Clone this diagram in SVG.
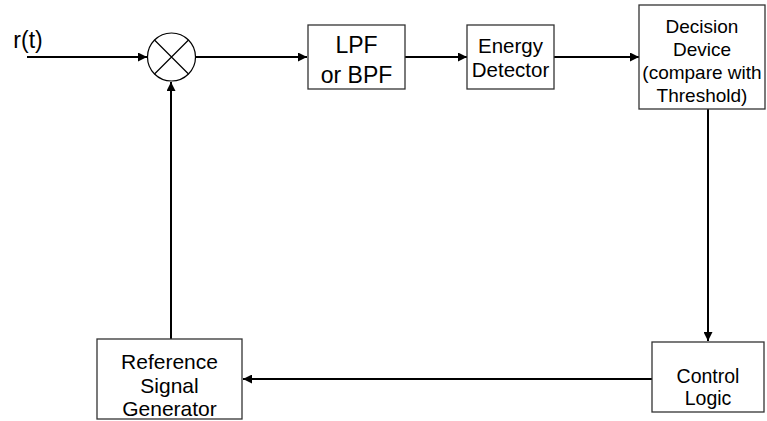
<svg xmlns="http://www.w3.org/2000/svg" width="767" height="421" viewBox="0 0 767 421">
<defs>
<marker id="ah" viewBox="0 0 10 10" refX="10" refY="5" markerWidth="10" markerHeight="9" markerUnits="userSpaceOnUse" orient="auto">
<path d="M0,0 L10,5 L0,10 z" fill="#000"/>
</marker>
<style>
.box{fill:#fff;stroke:#333;stroke-width:1.3}
.t{font-family:"Liberation Sans",Arial,sans-serif;fill:#000;text-anchor:middle}
.c{stroke:#000;stroke-width:2;fill:none;marker-end:url(#ah)}
</style>
</defs>
<rect width="767" height="421" fill="#fff"/>
<text class="t" x="28" y="48" font-size="23">r(t)</text>
<g id="connectors">
<path class="c" d="M27,57 H147"/>
<path class="c" d="M196,57 H307"/>
<path class="c" d="M405,57 H467"/>
<path class="c" d="M554,57 H639"/>
<path class="c" d="M708,109 V341"/>
<path class="c" d="M652,379 H243"/>
<path class="c" d="M171,339 V82"/>
</g>
<g id="mixer">
<circle cx="171.5" cy="57" r="24" fill="#fff" stroke="#000" stroke-width="1.2"/>
<path d="M154.5,40 L188.5,74 M188.5,40 L154.5,74" stroke="#000" stroke-width="1.2"/>
</g>
<g id="lpf">
<rect class="box" x="308" y="25" width="97" height="64"/>
<text class="t" x="356.5" y="53" font-size="23">LPF</text>
<text class="t" x="356.5" y="83" font-size="23">or BPF</text>
</g>
<g id="energy">
<rect class="box" x="467" y="25" width="87" height="64"/>
<text class="t" x="510.5" y="53" font-size="20.5">Energy</text>
<text class="t" x="510.5" y="77" font-size="20.5">Detector</text>
</g>
<g id="decision">
<rect class="box" x="639" y="5" width="126" height="104"/>
<text class="t" x="702" y="33" font-size="19">Decision</text>
<text class="t" x="702" y="56" font-size="19">Device</text>
<text class="t" x="702" y="79" font-size="19">(compare with</text>
<text class="t" x="702" y="102" font-size="19">Threshold)</text>
</g>
<g id="control">
<rect class="box" x="652" y="342" width="112" height="70"/>
<text class="t" x="708" y="383" font-size="19.5">Control</text>
<text class="t" x="708" y="405" font-size="19.5">Logic</text>
</g>
<g id="reference">
<rect class="box" x="97" y="339" width="145" height="80"/>
<text class="t" x="169.5" y="369" font-size="21">Reference</text>
<text class="t" x="169.5" y="393" font-size="21">Signal</text>
<text class="t" x="169.5" y="416" font-size="21">Generator</text>
</g>
</svg>
